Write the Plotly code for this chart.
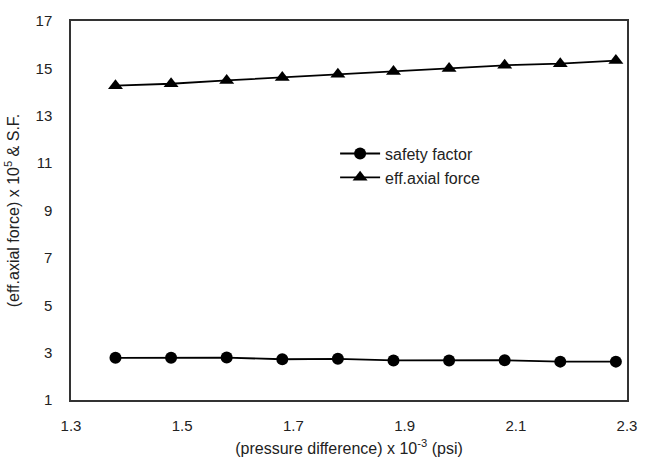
import plotly.graph_objects as go

pressure = [1.38, 1.48, 1.58, 1.68, 1.78, 1.88, 1.98, 2.08, 2.18, 2.28]
safety_factor = [2.78, 2.78, 2.79, 2.72, 2.74, 2.67, 2.67, 2.68, 2.62, 2.62]
eff_axial_force = [14.27, 14.35, 14.49, 14.62, 14.75, 14.87, 15.0, 15.13, 15.2, 15.33]
x_ticks = [1.3, 1.5, 1.7, 1.9, 2.1, 2.3]
y_ticks = [1, 3, 5, 7, 9, 11, 13, 15, 17]

font_family = "Arial, Liberation Sans, sans-serif"

fig = go.Figure()
fig.add_trace(go.Scatter(
    x=pressure, y=safety_factor, mode="lines+markers", name="safety factor",
    line=dict(color="black", width=1.8),
    marker=dict(symbol="circle", size=12, color="black"),
))
fig.add_trace(go.Scatter(
    x=pressure, y=eff_axial_force, mode="lines+markers", name="eff.axial force",
    line=dict(color="black", width=1.8),
    marker=dict(symbol="triangle-up", size=13, color="black"),
))

fig.update_layout(
    width=650, height=474,
    margin=dict(l=69, r=23, t=13, b=74),
    paper_bgcolor="white", plot_bgcolor="white",
    font=dict(family=font_family, size=15, color="#222"),
    showlegend=True,
    legend=dict(x=0.475, y=0.695, xanchor="left", yanchor="top",
                bgcolor="rgba(0,0,0,0)", font=dict(size=16, color="#222"),
                itemwidth=40, tracegroupgap=4),
)
fig.update_xaxes(
    range=[1.3, 2.3], tickvals=x_ticks, ticktext=[f"{v:.1f}" for v in x_ticks],
    showgrid=False, zeroline=False, showline=True, mirror=True,
    linecolor="#333", linewidth=1.5, ticks="", ticklabelstandoff=11,
    title=dict(text="(pressure difference) x 10<sup>-3</sup> (psi)", font=dict(size=16), standoff=10),
)
fig.update_yaxes(
    range=[1, 17], tickvals=y_ticks,
    showgrid=False, zeroline=False, showline=True, mirror=True,
    linecolor="#333", linewidth=1.5, ticks="", ticklabelstandoff=14,
    title=dict(text="(eff.axial force) x 10<sup>5</sup> & S.F.", font=dict(size=16), standoff=12),
)

fig.write_html("out.html")
